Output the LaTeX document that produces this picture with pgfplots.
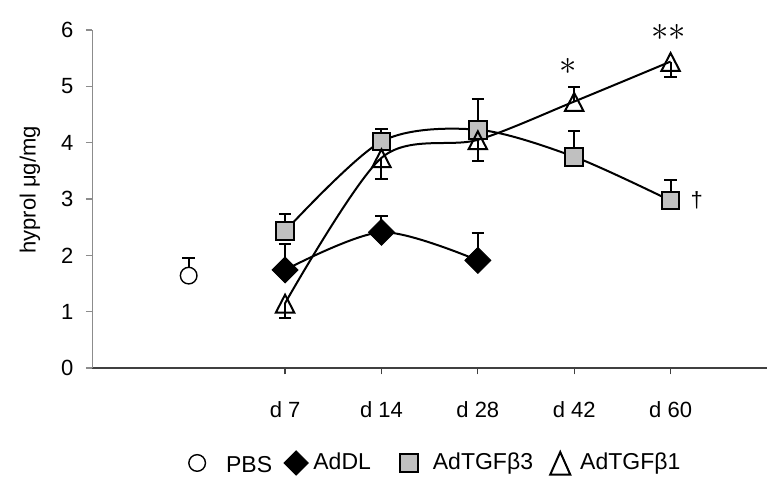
\documentclass[border=0pt]{standalone}
\usepackage{fontspec}
\setmainfont{Liberation Sans}
\usepackage{pgfplots}
\pgfplotsset{compat=1.18}
\newcommand\ff{\fontsize{11}{13}\selectfont}
\newcommand\lf{\fontsize{11.5}{13}\selectfont}
\definecolor{boxgray}{RGB}{192,192,192}
\pgfplotsset{
  errbar/.style={forget plot, draw=none, no markers,
    error bars/y explicit,
    error bars/error mark=-,
    error bars/error bar style={draw=black, line width=1pt},
    error bars/error mark options={rotate=90, draw=black, line width=1pt, mark size=3.1pt}},
  pbsmark/.style={only marks, mark=*, mark size=4.15pt, mark options={draw=black, fill=white, line width=0.7pt}},
  dlmark/.style={only marks, mark=square*, mark size=4.6pt, mark options={rotate=45, draw=black, fill=black}},
  b3mark/.style={only marks, mark=square*, mark size=4.4pt, mark options={draw=black, fill=boxgray, line width=1pt}},
  b1mark/.style={only marks, mark=triangle, mark size=5.3pt, mark options={draw=black, line width=1pt, yscale=1.12, yshift=-1.5pt}},
  % legend image: mark at 0, empty room L to the left and R to the right
  limg/.style 2 args={legend image code/.code={%
    \path[draw=none, fill=none] (-#1,0pt) rectangle (#2,0.1pt);
    \draw[##1] plot coordinates {(0pt,0pt)};}},
}
\begin{document}
\begin{tikzpicture}
\useasboundingbox (0,0) rectangle (392pt,249pt);
\begin{axis}[
  at={(46.15pt,65pt)}, anchor=south west,
  scale only axis, width=337.35pt, height=169pt,
  xmin=-1, xmax=6, ymin=0, ymax=6,
  axis x line*=bottom, axis y line*=left,
  x axis line style={black!75, line width=0.7pt},
  y axis line style={black!45, line width=0.6pt},
  xtick={1,2,3,4,5}, xticklabels={d 7, d 14, d 28, d 42, d 60},
  ytick={0,1,2,3,4,5,6},
  tick align=outside, major tick length=3.2pt,
  x tick style={black!75, line width=0.6pt},
  y tick style={black!45, line width=0.6pt},
  tick label style={font=\ff},
  /pgf/number format/assume math mode=true,
  xticklabel style={yshift=-10pt},
  yticklabel style={xshift=-2.75pt},
  ylabel={hyprol μg/mg},
  ylabel style={at={(axis description cs:-0.0923,0.527)}, anchor=center, font=\ff},
  clip=false,
  legend style={draw=none, fill=none, inner sep=0pt, nodes={inner sep=0pt},
    at={(axis description cs:0.14,-0.281)}, anchor=west,
    legend columns=4, font=\lf, column sep=0pt},
  legend cell align=left,
]
% smoothed lines
\addplot[black, line width=1pt, smooth, forget plot] coordinates {(1,1.74)(2,2.41)(3,1.91)};
\addplot[black, line width=1pt, smooth, forget plot] coordinates {(1,2.43)(2,4.02)(3,4.23)(4,3.75)(5,2.97)};
\addplot[black, line width=1pt, smooth, forget plot] coordinates {(1,1.15)(2,3.73)(3,4.05)(4,4.73)(5,5.44)};
% error bars
\addplot[errbar, error bars/y dir=plus] coordinates {(0,1.64) +- (0,0.31)};
\addplot[errbar, error bars/y dir=plus] coordinates {(1,1.74) +- (0,0.46) (2,2.41) +- (0,0.28) (3,1.91) +- (0,0.48)};
\addplot[errbar, error bars/y dir=plus] coordinates {(1,2.43) +- (0,0.30) (2,4.02) +- (0,0.23) (3,4.23) +- (0,0.55) (4,3.75) +- (0,0.45) (5,2.97) +- (0,0.36)};
\addplot[errbar, error bars/y dir=minus] coordinates {(1,1.15) +- (0,0.26) (2,3.73) +- (0,0.37) (3,4.05) +- (0,0.38) (5,5.44) +- (0,0.28)};
\addplot[errbar, error bars/y dir=plus] coordinates {(4,4.73) +- (0,0.25)};
% markers
\addplot[pbsmark, forget plot] coordinates {(0,1.64)};
\addplot[dlmark, forget plot] coordinates {(1,1.74)(2,2.41)(3,1.91)};
\addplot[b3mark, forget plot] coordinates {(1,2.43)(2,4.02)(3,4.23)(4,3.75)(5,2.97)};
\addplot[b1mark, forget plot] coordinates {(1,1.15)(2,3.73)(3,4.05)(4,4.73)(5,5.44)};
% legend
\addlegendimage{pbsmark, limg={5pt}{14.5pt}}
\addlegendentry{\raisebox{-2.5pt}{PBS}}
\addlegendimage{dlmark, mark size=4.3pt, limg={12pt}{8.6pt}}
\addlegendentry{AdDL}
\addlegendimage{b3mark, limg={19pt}{12pt}}
\addlegendentry{AdTGFβ3}
\addlegendimage{only marks, mark=triangle, mark size=5.8pt, mark options={draw=black, line width=1pt, yscale=1.3, yshift=-1.6pt}, limg={13.6pt}{10pt}}
\addlegendentry{AdTGFβ1}
% significance marks
\node[font=\fontsize{18}{18}\selectfont] at (axis cs:3.94,5.35) {$\ast$};
\node[font=\fontsize{18}{18}\selectfont] at (axis cs:4.98,5.96) {$\ast\ast$};
\node[font=\ff] at (axis cs:5.27,2.97) {\textdagger};
\end{axis}
\end{tikzpicture}
\end{document}
